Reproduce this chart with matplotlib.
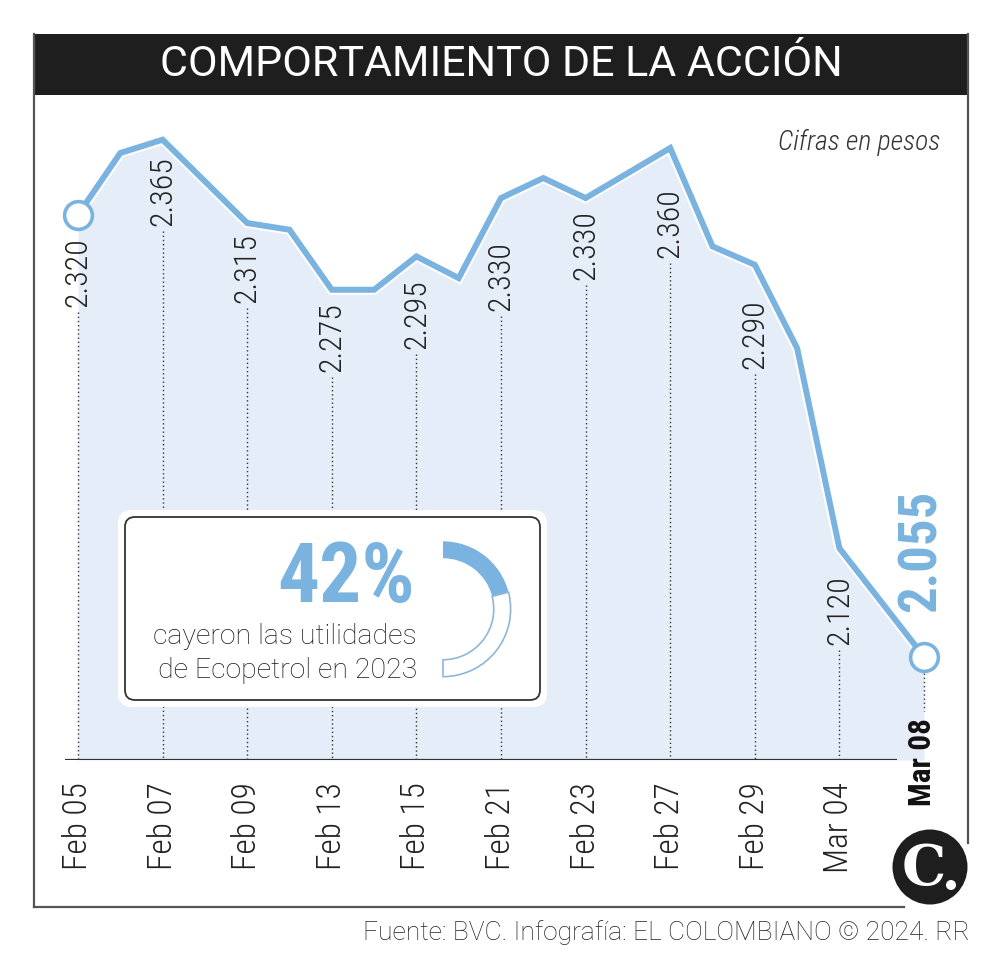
import matplotlib
matplotlib.use('Agg')
import matplotlib.pyplot as plt
from matplotlib.patches import FancyBboxPatch, Rectangle, Circle

# ---------------- data ----------------
dates = ['Feb 05', 'Feb 07', 'Feb 09', 'Feb 13', 'Feb 15', 'Feb 21',
         'Feb 23', 'Feb 27', 'Feb 29', 'Mar 04', 'Mar 08']
label_pos = [0, 2, 4, 6, 8, 10, 12, 14, 16, 18, 20]
line_pos = [0, 1, 2, 4, 5, 6, 7, 8, 9, 10, 11, 12, 14, 15, 16, 17, 18, 20]
prices = [2320, 2357, 2365, 2315, 2311, 2275, 2275, 2295, 2282, 2330,
          2342, 2330, 2360, 2301, 2290, 2240, 2120, 2055]
pct_drop = 42

# layout (pixel gaps between point and its value label)
label_gaps = [23, 17, 10, 12, 23, 43, 12, 40, 35, 27]

BLUE = '#7ab3df'
FILL = '#e5edf8'
DARK = '#1e1e1e'
FONT = 'Roboto'
COND = 'Roboto Condensed'

W, H = 998, 966
fig = plt.figure(figsize=(W / 100, H / 100), dpi=100)


def frac(l, t, r, b):
    return [l / W, 1 - b / H, (r - l) / W, (b - t) / H]


price_at = dict(zip(line_pos, prices))
labeled = [price_at[p] for p in label_pos]

# ---------------- main chart ----------------
ax = fig.add_axes(frac(34, 96, 968, 760), zorder=1)
YBASE = 1993
ax.set_xlim(-1.04, 21.04)
ax.set_ylim(YBASE, 2391.2)
ax.axis('off')

ax.fill_between(line_pos, prices, YBASE, color=FILL, lw=0, zorder=1)
ax.plot(line_pos, prices, color='white', lw=7.2, solid_joinstyle='miter', zorder=3)
ax.plot(line_pos, prices, color=BLUE, lw=4.3, solid_joinstyle='miter', zorder=4)
ax.plot([line_pos[0], line_pos[-1]], [prices[0], prices[-1]], 'o', ms=20,
        mfc='white', mec=BLUE, mew=2.6, zorder=5)

# baseline
ax.plot([-0.31, 19.36], [YBASE, YBASE], color='#333333', lw=1.6, zorder=6,
        solid_capstyle='butt')

val_texts = []
for p, v, g in zip(label_pos[:-1], labeled[:-1], label_gaps):
    t = ax.annotate(f"{v / 1000:.3f}", (p, v), xytext=(0, -g),
                    textcoords='offset pixels', rotation=90, ha='center',
                    va='top', fontsize=23, family=COND, weight='light',
                    color='#222222', zorder=6)
    val_texts.append((p, t))

for p, d in zip(label_pos[:-1], dates[:-1]):
    ax.annotate(d, (p, YBASE), xytext=(0, -22), textcoords='offset pixels',
                rotation=90, ha='center', va='top', fontsize=24, family=COND,
                weight='light', color='#222222')

last_date = ax.annotate(dates[-1], (label_pos[-1], YBASE), xytext=(-2, 42),
                        textcoords='offset pixels', rotation=90, ha='center',
                        va='top', fontsize=22.5, family=COND, weight='bold',
                        color='#111111', zorder=6)

ax.annotate(f"{labeled[-1] / 1000:.3f}", (label_pos[-1], labeled[-1]),
            xytext=(-3, 45), textcoords='offset pixels', rotation=90,
            ha='center', va='bottom', fontsize=38, family=COND, weight='bold',
            color=BLUE, zorder=6)

# ---------------- overlay ----------------
ov = fig.add_axes([0, 0, 1, 1], zorder=2)
ov.set_xlim(0, W)
ov.set_ylim(H, 0)
ov.axis('off')
ov.patch.set_alpha(0)

ov.add_patch(Rectangle((34, 34), 934, 61, color=DARK, lw=0))
ov.text(501, 65, 'COMPORTAMIENTO DE LA ACCIÓN', color='white', fontsize=31,
        family=FONT, ha='center', va='center')

ov.plot([34, 34], [34, 907], color='#555555', lw=1.6)
ov.plot([34, 904], [907, 907], color='#555555', lw=1.6)
ov.plot([968, 968], [34, 843], color='#555555', lw=1.6)

ov.text(940, 143, 'Cifras en pesos', fontsize=20, family=COND, style='italic',
        weight='light', color='#333333', ha='right', va='center')

ov.add_patch(FancyBboxPatch((118, 510), 429, 197,
                            boxstyle='round,pad=0,rounding_size=14',
                            fc='white', ec='none'))
ov.add_patch(FancyBboxPatch((125, 517), 415, 183,
                            boxstyle='round,pad=0,rounding_size=10',
                            fc='white', ec='#333333', lw=1.3))
ov.text(415, 602, f'{pct_drop}%', fontsize=60, family=COND, weight='bold',
        color=BLUE, ha='right', va='baseline')
ov.text(417, 644, 'cayeron las utilidades', fontsize=20.5, family=FONT,
        weight='light', color='#1a1a1a', ha='right', va='baseline')
ov.text(417, 678, 'de Ecopetrol en 2023', fontsize=20.5, family=FONT,
        weight='light', color='#1a1a1a', ha='right', va='baseline')

ov.text(970, 933, 'Fuente: BVC. Infografía: EL COLOMBIANO © 2024. RR',
        fontsize=19, family=FONT, weight='light', color='#222222',
        ha='right', va='center')

# logo
ov.add_patch(Circle((930, 867), 37.5, color=DARK, lw=0))
ov.text(924, 869, 'C', color='white', fontsize=40, family='DejaVu Serif',
        weight='bold', ha='center', va='center')
ov.add_patch(Circle((951, 885), 5, color='white', lw=0))

# ---------------- donut ----------------
dax = fig.add_axes(frac(374, 540, 512, 678), zorder=3)
wedges, _ = dax.pie([pct_drop, 100 - pct_drop, 100], startangle=90,
                    counterclock=False, radius=1,
                    wedgeprops=dict(width=0.25))
wedges[0].set_facecolor(BLUE)
wedges[0].set_edgecolor('none')
wedges[1].set_facecolor('white')
wedges[1].set_edgecolor('#8fb6d8')
wedges[1].set_linewidth(1.2)
wedges[2].set_visible(False)
dax.set_xlim(-1.02, 1.02)
dax.set_ylim(-1.02, 1.02)

# dotted leader lines (computed from rendered label extents)
fig.canvas.draw()
inv = ax.transData.inverted()
for p, t in val_texts:
    bb = t.get_window_extent()
    ytop = inv.transform((0, bb.y0 - 5))[1]
    ax.plot([p, p], [ytop, YBASE], color='#333333', lw=1.0,
            linestyle=(0, (1, 2)), zorder=2)
mk = ax.transData.transform((label_pos[-1], labeled[-1]))
bb = last_date.get_window_extent()
y1 = inv.transform((0, mk[1] - 16))[1]
y2 = inv.transform((0, bb.y1 + 7))[1]
ax.plot([label_pos[-1]] * 2, [y1, y2], color='#333333', lw=1.0,
        linestyle=(0, (1, 2)), zorder=2)

fig.savefig('out.png', dpi=100)
